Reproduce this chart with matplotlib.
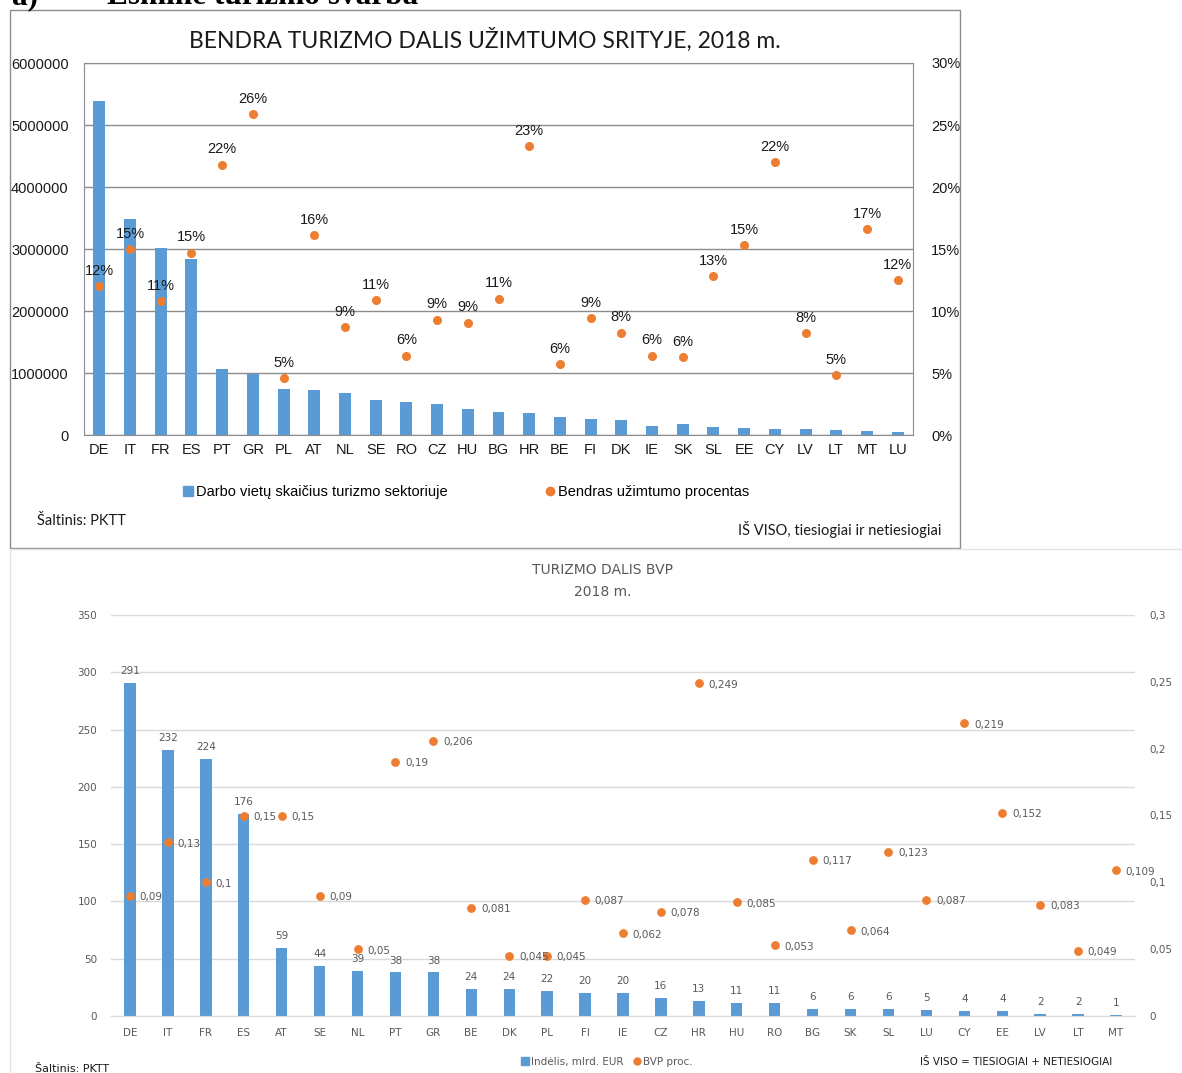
import numpy as np
import matplotlib
matplotlib.use("Agg")
from matplotlib import pyplot as plt
from matplotlib.patches import Rectangle
from matplotlib.lines import Line2D
from matplotlib.ticker import FuncFormatter

# Top chart: employment in tourism, 2018
top_countries = ["DE", "IT", "FR", "ES", "PT", "GR", "PL", "AT", "NL", "SE", "RO", "CZ", "HU", "BG",
                 "HR", "BE", "FI", "DK", "IE", "SK", "SL", "EE", "CY", "LV", "LT", "MT", "LU"]
top_jobs = [5390000, 3480000, 3020000, 2840000, 1065000, 990000, 740000, 720000, 670000, 565000,
            540000, 495000, 420000, 365000, 350000, 295000, 258000, 242000, 150000, 172000,
            134000, 118000, 97000, 95000, 80000, 65000, 48000]
top_share = [0.120, 0.150, 0.108, 0.147, 0.218, 0.259, 0.046, 0.161, 0.087, 0.109, 0.064, 0.093,
             0.0905, 0.110, 0.233, 0.057, 0.094, 0.0825, 0.064, 0.063, 0.128, 0.153, 0.220,
             0.082, 0.048, 0.166, 0.125]

# Bottom chart: tourism share of GDP, 2018
bot_countries = ["DE", "IT", "FR", "ES", "AT", "SE", "NL", "PT", "GR", "BE", "DK", "PL", "FI", "IE",
                 "CZ", "HR", "HU", "RO", "BG", "SK", "SL", "LU", "CY", "EE", "LV", "LT", "MT"]
bot_contrib = [291, 232, 224, 176, 59, 44, 39, 38, 38, 24, 24, 22, 20, 20, 16, 13, 11, 11, 6, 6, 6,
               5, 4, 4, 2, 2, 1]
bot_gdp = [0.09, 0.13, 0.1, 0.15, 0.15, 0.09, 0.05, 0.19, 0.206, 0.081, 0.045, 0.045, 0.087, 0.062,
           0.078, 0.249, 0.085, 0.053, 0.117, 0.064, 0.123, 0.087, 0.219, 0.152, 0.083, 0.049, 0.109]

BLUE = "#5B9BD5"
ORANGE = "#ED7D31"
W, H = 1182, 1073

fig = plt.figure(figsize=(W / 100, H / 100), dpi=100)


def fbox(x0, y0, x1, y1):
    # pixel box (from top-left) -> figure fraction rect
    return [x0 / W, 1 - y1 / H, (x1 - x0) / W, (y1 - y0) / H]


def comma(v, pos=None):
    s = ("%g" % round(v, 3))
    return s.replace(".", ",")


# heading, cut off by the top edge like in the source page
fig.text(12 / W, 1 - 4 / H, "a)", family="Liberation Serif", weight="bold", fontsize=22.5,
         va="baseline", ha="left")
fig.text(107 / W, 1 - 4 / H, "Esminė turizmo svarba", family="Liberation Serif", weight="bold",
         fontsize=22.5, va="baseline", ha="left")

# ---------- top chart ----------
fig.patches.append(Rectangle((10 / W, 1 - 548 / H), 950 / W, 538 / H, transform=fig.transFigure,
                             fill=False, edgecolor="#8c8c8c", linewidth=1.0))

ax1 = fig.add_axes(fbox(84, 63, 913, 435))
x = np.arange(len(top_countries))
ax1.bar(x, top_jobs, width=0.39, color=BLUE, zorder=2)
ax1.set_xlim(-0.5, len(top_countries) - 0.5)
ax1.set_ylim(0, 6000000)
ax1.set_yticks(np.arange(0, 6000001, 1000000))
ax1.set_yticklabels([str(v) for v in range(0, 6000001, 1000000)])
ax1.set_xticks(x)
ax1.set_xticklabels(top_countries)
ax1.yaxis.grid(True, color="#8c8c8c", linewidth=1.0)
ax1.set_axisbelow(True)
for sp in ax1.spines.values():
    sp.set_color("#8c8c8c")
ax1.tick_params(length=0, labelsize=10.5, labelcolor="#1a1a1a", pad=6)
ax1.tick_params(axis="y", pad=11)
for lab in ax1.get_xticklabels() + ax1.get_yticklabels():
    lab.set_family("Liberation Sans")

ax1r = ax1.twinx()
ax1r.set_ylim(0, 0.30)
ax1r.set_yticks(np.arange(0, 0.301, 0.05))
ax1r.yaxis.set_major_formatter(FuncFormatter(lambda v, p: "%d%%" % round(v * 100)))
ax1r.tick_params(length=0, labelsize=10.5, labelcolor="#1a1a1a", pad=13)
for lab in ax1r.get_yticklabels():
    lab.set_family("Liberation Sans")
for sp in ax1r.spines.values():
    sp.set_visible(False)
ax1r.scatter(x, top_share, s=30, color=ORANGE, zorder=3)
for xi, v in zip(x, top_share):
    ax1r.annotate("%d%%" % round(v * 100), (xi, v), xytext=(0, 6), textcoords="offset points",
                  ha="center", va="bottom", fontsize=10.5, family="Liberation Sans",
                  color="#1a1a1a")

fig.text(485 / W, 1 - 40 / H, "BENDRA TURIZMO DALIS UŽIMTUMO SRITYJE, 2018 m.", family="Lato",
         fontsize=16.5, ha="center", va="center", color="#1a1a1a")

leg1 = [Line2D([], [], marker="s", linestyle="", color=BLUE, markersize=7),
        Line2D([], [], marker="o", linestyle="", color=ORANGE, markersize=6)]
fig.legend(leg1, ["Darbo vietų skaičius turizmo sektoriuje", "Bendras užimtumo procentas"],
           loc="center", bbox_to_anchor=(465 / W, 1 - 492 / H), ncol=2, frameon=False,
           prop={"family": "Liberation Sans", "size": 10.5}, handletextpad=0.05,
           columnspacing=6.5, handlelength=1.0)
fig.text(37 / W, 1 - 521 / H, "Šaltinis: PKTT", family="Lato", fontsize=10.5, ha="left",
         va="center", color="#1a1a1a")
fig.text(942 / W, 1 - 530 / H, "IŠ VISO, tiesiogiai ir netiesiogiai", family="Lato",
         fontsize=10.5, ha="right", va="center", color="#1a1a1a")

# ---------- bottom chart ----------
fig.patches.append(Rectangle((10 / W, -0.01), 1.0, 1 - 549 / H + 0.01, transform=fig.transFigure,
                             fill=False, edgecolor="#e3e3e3", linewidth=1.0))

GREY = "#595959"
ax2 = fig.add_axes(fbox(111, 615, 1135, 1016))
x2 = np.arange(len(bot_countries))
bars = ax2.bar(x2, bot_contrib, width=0.3, color=BLUE, zorder=2)
ax2.set_xlim(-0.5, len(bot_countries) - 0.5)
ax2.set_ylim(0, 350)
ax2.set_yticks(np.arange(0, 351, 50))
ax2.set_xticks(x2)
ax2.set_xticklabels(bot_countries)
ax2.yaxis.grid(True, color="#d9d9d9", linewidth=1.0)
ax2.set_axisbelow(True)
for name, sp in ax2.spines.items():
    sp.set_visible(name == "bottom")
ax2.spines["bottom"].set_color("#d9d9d9")
ax2.tick_params(length=0, labelsize=7.5, labelcolor=GREY)
ax2.tick_params(axis="y", pad=10)
ax2.tick_params(axis="x", pad=9)
for b, v in zip(bars, bot_contrib):
    ax2.annotate(str(v), (b.get_x() + b.get_width() / 2, v), xytext=(0, 5),
                 textcoords="offset points", ha="center", va="bottom", fontsize=7.5, color=GREY)

ax2r = ax2.twinx()
ax2r.set_ylim(0, 0.3)
ax2r.set_yticks(np.arange(0, 0.301, 0.05))
ax2r.yaxis.set_major_formatter(FuncFormatter(comma))
ax2r.tick_params(length=0, labelsize=7.5, labelcolor=GREY, pad=10)
for sp in ax2r.spines.values():
    sp.set_visible(False)
ax2r.scatter(x2, bot_gdp, s=28, color=ORANGE, zorder=3)
for xi, v in zip(x2, bot_gdp):
    ax2r.annotate(comma(v), (xi, v), xytext=(7, -1), textcoords="offset points", ha="left",
                  va="center", fontsize=7.5, color=GREY)

fig.text(603 / W, 1 - 570 / H, "TURIZMO DALIS BVP", fontsize=10, ha="center", va="center",
         color=GREY)
fig.text(603 / W, 1 - 592 / H, "2018 m.", fontsize=10, ha="center", va="center", color=GREY)

leg2 = [Line2D([], [], marker="s", linestyle="", color=BLUE, markersize=6),
        Line2D([], [], marker="o", linestyle="", color=ORANGE, markersize=5)]
fig.legend(leg2, ["Indėlis, mlrd. EUR", "BVP proc."], loc="center",
           bbox_to_anchor=(606 / W, 1 - 1062 / H), ncol=2, frameon=False,
           prop={"size": 7.5}, labelcolor=GREY, handletextpad=0.05, columnspacing=0.8,
           handlelength=1.0)
fig.text(1016 / W, 1 - 1062 / H, "IŠ VISO = TIESIOGIAI + NETIESIOGIAI", fontsize=7.5,
         ha="center", va="center", color="#1a1a1a")
fig.text(35 / W, 1 - 1069 / H, "Šaltinis: PKTT", fontsize=8, ha="left", va="center",
         color="#1a1a1a")

fig.savefig("out.png", dpi=100)
